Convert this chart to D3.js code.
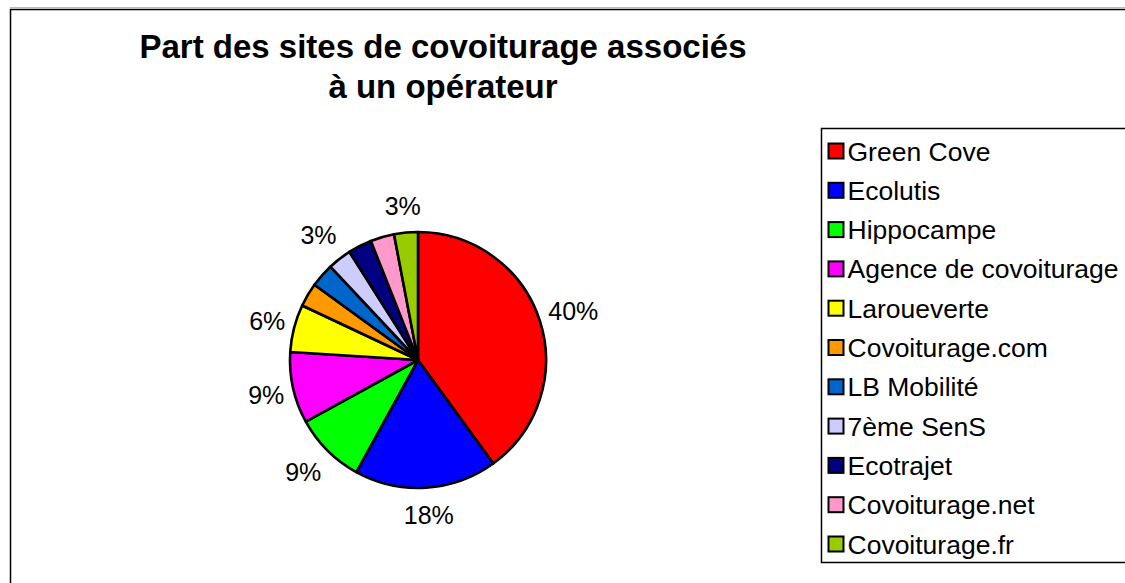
<!DOCTYPE html>
<html>
<head>
<meta charset="utf-8">
<script src="https://cdn.jsdelivr.net/npm/d3@7"></script>
<style>
  body { margin: 0; background: #fff; }
  svg { display: block; font-family: "Liberation Sans", Arial, sans-serif; }
</style>
</head>
<body>
<div id="chart"></div>
<script>
// data
const operators = ["Green Cove", "Ecolutis", "Hippocampe", "Agence de covoiturage", "Laroueverte",
  "Covoiturage.com", "LB Mobilité", "7ème SenS", "Ecotrajet", "Covoiturage.net", "Covoiturage.fr"];
const shares = [40, 18, 9, 9, 6, 3, 3, 3, 3, 3, 3];
const sliceColors = ["#ff0000", "#0000ff", "#00ff00", "#ff00ff", "#ffff00",
  "#ff9900", "#0066cc", "#ccccff", "#000080", "#ff99cc", "#99cc00"];
// only these labels are drawn in the original (others hidden to avoid overlap)
const labelled = ["Green Cove", "Ecolutis", "Hippocampe", "Agence de covoiturage", "Laroueverte",
  "7ème SenS", "Covoiturage.fr"];
const titleLines = ["Part des sites de covoiturage associés", "à un opérateur"];

const width = 1125, height = 583;
const cx = 418, cy = 360, radius = 128;

const data = operators.map((name, i) => ({name: name, value: shares[i]}));

const svg = d3.select("#chart").append("svg")
  .attr("width", width)
  .attr("height", height);

// chart area border
svg.append("line")
  .attr("x1", 10).attr("x2", width).attr("y1", 7.5).attr("y2", 7.5)
  .attr("stroke", "#bbb").attr("stroke-width", 1);
svg.append("rect")
  .attr("x", 10.5).attr("y", 9.5)
  .attr("width", width + 20).attr("height", height + 20)
  .attr("fill", "none").attr("stroke", "#000").attr("stroke-width", 1.5);

// title
svg.append("g").selectAll("text")
  .data(titleLines)
  .join("text")
    .attr("x", 443)
    .attr("y", (d, i) => 58 + i * 40)
    .attr("text-anchor", "middle")
    .attr("font-size", 33)
    .attr("font-weight", "bold")
    .text(d => d);

const color = d3.scaleOrdinal().domain(operators).range(sliceColors);

const pie = d3.pie().sort(null).value(d => d.value);
const arc = d3.arc().innerRadius(0).outerRadius(radius);
const arcs = pie(data);

const pieG = svg.append("g").attr("transform", `translate(${cx},${cy})`);

pieG.selectAll("path")
  .data(arcs)
  .join("path")
    .attr("d", arc)
    .attr("fill", d => color(d.data.name))
    .attr("stroke", "#000")
    .attr("stroke-width", 2.6)
    .attr("stroke-linejoin", "round");

// percentage labels, pushed outside the rim like Excel does
const clamp = t => Math.max(-1, Math.min(1, t));
const labels = pieG.selectAll("text.pct")
  .data(arcs.filter(d => labelled.includes(d.data.name)))
  .join("text")
    .attr("class", "pct")
    .attr("font-size", 25)
    .attr("text-anchor", "middle")
    .attr("dy", "0.36em")
    .text(d => d3.format(".0f")(d.data.value) + "%");

labels.each(function(d) {
  const a = (d.startAngle + d.endAngle) / 2;
  const dx = Math.sin(a), dy = -Math.cos(a);
  const w = this.getComputedTextLength() / 2;
  const r0 = radius + 9;
  d3.select(this)
    .attr("x", r0 * dx + w * clamp(dx * 1.4))
    .attr("y", r0 * dy + 18 * clamp(dy * 1.2));
});

// legend
const legend = svg.append("g").attr("transform", "translate(821.5,128.5)");
legend.append("rect")
  .attr("width", 330).attr("height", 434)
  .attr("fill", "#fff").attr("stroke", "#000").attr("stroke-width", 1.5);

const rowY = d3.scalePoint().domain(operators).range([22.5, 415.5]);

const items = legend.selectAll("g.item")
  .data(operators)
  .join("g")
    .attr("class", "item")
    .attr("transform", d => `translate(0,${rowY(d)})`);

items.append("rect")
  .attr("x", 7).attr("y", -7.5)
  .attr("width", 15).attr("height", 15)
  .attr("fill", d => color(d))
  .attr("stroke", "#000").attr("stroke-width", 2);

items.append("text")
  .attr("x", 26)
  .attr("dy", "0.36em")
  .attr("font-size", 26.5)
  .text(d => d);
</script>
</body>
</html>
